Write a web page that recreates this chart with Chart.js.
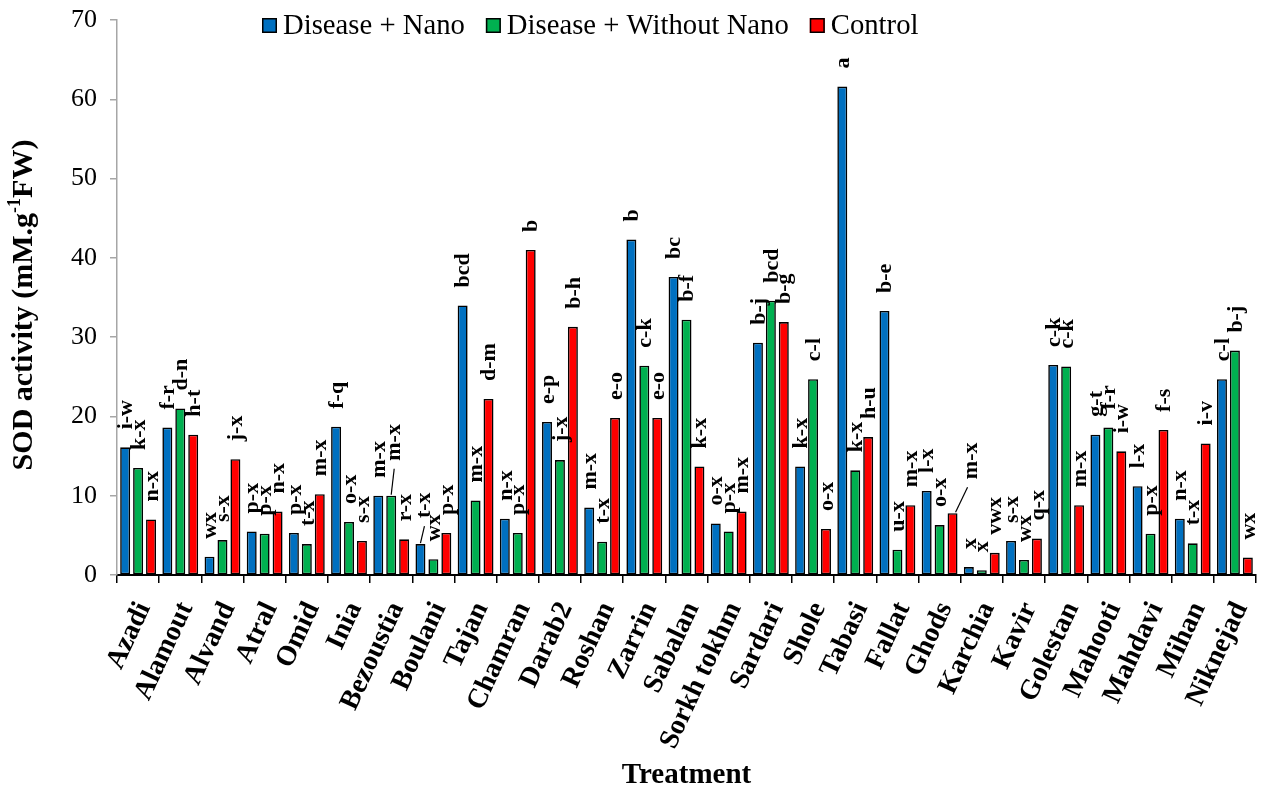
<!DOCTYPE html>
<html>
<head>
<meta charset="utf-8">
<script src="https://cdn.jsdelivr.net/npm/chart.js@4.4.1/dist/chart.umd.min.js"></script>
<style>
  html, body { margin: 0; padding: 0; background: #fff; }
  #wrap { width: 1263px; height: 787px; }
</style>
</head>
<body>
<div id="wrap"><canvas id="sod" width="1263" height="787"></canvas></div>
<script>
// Cultivars on the x axis
const categories = ['Azadi', 'Alamout', 'Alvand', 'Atral', 'Omid', 'Inia', 'Bezoustia', 'Boulani',
  'Tajan', 'Chamran', 'Darab2', 'Roshan', 'Zarrin', 'Sabalan', 'Sorkh tokhm', 'Sardari', 'Shole',
  'Tabasi', 'Fallat', 'Ghods', 'Karchia', 'Kavir', 'Golestan', 'Mahooti', 'Mahdavi', 'Mihan', 'Niknejad'];

const seriesNames = ['Disease + Nano', 'Disease + Without Nano', 'Control'];

// SOD activity (mM.g-1 FW)
const diseaseNano = [16.1, 18.6, 2.3, 5.5, 5.3, 18.7, 10.0, 3.9, 34.0, 7.1, 19.3, 8.5, 42.3, 37.6,
  6.5, 29.3, 13.7, 61.6, 33.3, 10.6, 1.0, 4.3, 26.5, 17.7, 11.2, 7.1, 24.7];
const diseaseWithoutNano = [13.5, 21.0, 4.4, 5.2, 3.9, 6.7, 10.0, 2.0, 9.4, 5.3, 14.5, 4.2, 26.4, 32.2,
  5.5, 34.6, 24.7, 13.2, 3.2, 6.3, 0.6, 1.9, 26.3, 18.6, 5.2, 4.0, 28.3];
const control = [7.0, 17.7, 14.6, 8.0, 10.2, 4.3, 4.5, 5.3, 22.2, 41.0, 31.3, 19.8, 19.8, 13.7,
  8.0, 31.9, 5.8, 17.4, 8.8, 7.8, 2.8, 4.6, 8.8, 15.6, 18.3, 16.6, 2.2];

// Mean-separation letters above each bar
const lettersNano = ['i-w', 'f-r', 'wx', 'p-x', 'p-x', 'f-q', 'm-x', 't-x', 'bcd', 'n-x', 'e-p', 'm-x', 'b',
  'bc', 'o-x', 'b-j', 'k-x', 'a', 'b-e', 'l-x', 'x', 's-x', 'c-k', 'g-t', 'l-x', 'n-x', 'c-l'];
const lettersWithoutNano = ['k-x', 'd-n', 's-x', 'p-x', 't-x', 'o-x', 'm-x', 'wx', 'm-x', 'p-x', 'j-x', 't-x', 'c-k',
  'b-f', 'p-x', 'bcd', 'c-l', 'k-x', 'u-x', 'o-x', 'x', 'wx', 'c-k', 'f-r', 'p-x', 't-x', 'b-j'];
const lettersControl = ['n-x', 'h-t', 'j-x', 'n-x', 'm-x', 's-x', 'r-x', 'p-x', 'd-m', 'b', 'b-h', 'e-o', 'e-o',
  'k-x', 'm-x', 'b-g', 'o-x', 'h-u', 'm-x', 'm-x', 'vwx', 'q-x', 'm-x', 'i-w', 'f-s', 'i-v', 'wx'];

const yTicks = [0, 10, 20, 30, 40, 50, 60, 70];

// ---- styling (kept apart from the data) ----
const seriesColors = ['#0070C0', '#00B050', '#FF0000'];
const SERIF = '"Liberation Serif", "Times New Roman", serif';
const LABEL_GAP = 18;
const LABEL_DX = 1;
// labels that were moved off their bar, joined back by a short leader line
const labelNudges = {
  'Bezoustia|1': { dx: 2, dy: 17 },
  'Boulani|0': { dx: 3, dy: 8 },
  'Ghods|2': { dx: 18, dy: 16 }
};

const letterSets = [lettersNano, lettersWithoutNano, lettersControl];

// keep the plot box fixed: no extra room reserved for overhanging tick labels
const noScalePadding = (s) => { s.paddingTop = 0; s.paddingBottom = 0; s.paddingLeft = 0; s.paddingRight = 0; };

const barLetters = {
  id: 'barLetters',
  afterDatasetsDraw(chart) {
    const ctx = chart.ctx;
    ctx.save();
    ctx.font = 'bold 22px ' + SERIF;
    ctx.fillStyle = '#000';
    ctx.strokeStyle = '#000';
    ctx.lineWidth = 1.2;
    chart.data.datasets.forEach((ds, di) => {
      const meta = chart.getDatasetMeta(di);
      meta.data.forEach((bar, i) => {
        const text = letterSets[di][i];
        const nudge = labelNudges[categories[i] + '|' + di];
        let x = bar.x + LABEL_DX;
        let y = bar.y - LABEL_GAP;
        if (nudge) {
          x += nudge.dx;
          y -= nudge.dy;
          ctx.beginPath();
          ctx.moveTo(bar.x + (nudge.dx > 8 ? 3 : 0), bar.y - 1);
          ctx.lineTo(x - (nudge.dx > 8 ? 4 : 0), y + 8);
          ctx.stroke();
        }
        ctx.save();
        ctx.translate(x, y);
        ctx.rotate(-Math.PI / 2);
        ctx.textAlign = 'left';
        ctx.textBaseline = 'middle';
        ctx.fillText(text, 0, 0);
        ctx.restore();
      });
    });
    ctx.restore();
  }
};

const topLegend = {
  id: 'topLegend',
  afterDraw(chart) {
    const ctx = chart.ctx;
    ctx.save();
    ctx.font = '28.7px ' + SERIF;
    ctx.textBaseline = 'alphabetic';
    ctx.textAlign = 'left';
    let x = 262;
    const box = 15, boxTop = 18, baseline = 34, textGap = 6, itemGap = 21;
    chart.data.datasets.forEach((ds) => {
      ctx.fillStyle = ds.backgroundColor;
      ctx.fillRect(x, boxTop, box, box);
      ctx.strokeStyle = '#000';
      ctx.lineWidth = 1.5;
      ctx.strokeRect(x + 0.75, boxTop + 0.75, box - 1.5, box - 1.5);
      ctx.fillStyle = '#000';
      ctx.fillText(ds.label, x + box + textGap, baseline);
      x += box + textGap + ctx.measureText(ds.label).width + itemGap;
    });
    ctx.restore();
  }
};

const yTitle = {
  id: 'yTitle',
  afterDraw(chart) {
    const ctx = chart.ctx;
    const parts = [
      { t: 'SOD activity (mM.g', f: 'bold 30px ' + SERIF, dy: 0 },
      { t: '-1', f: 'bold 18px ' + SERIF, dy: -12 },
      { t: 'FW)', f: 'bold 30px ' + SERIF, dy: 0 }
    ];
    ctx.save();
    let total = 0;
    parts.forEach(p => { ctx.font = p.f; p.w = ctx.measureText(p.t).width; total += p.w; });
    ctx.translate(32, 305);
    ctx.rotate(-Math.PI / 2);
    ctx.fillStyle = '#000';
    ctx.textBaseline = 'alphabetic';
    ctx.textAlign = 'left';
    let x = -total / 2;
    parts.forEach(p => { ctx.font = p.f; ctx.fillText(p.t, x, p.dy); x += p.w; });
    ctx.restore();
  }
};

new Chart(document.getElementById('sod'), {
  type: 'bar',
  data: {
    labels: categories,
    datasets: [
      { label: seriesNames[0], data: diseaseNano },
      { label: seriesNames[1], data: diseaseWithoutNano },
      { label: seriesNames[2], data: control }
    ].map((d, k) => Object.assign(d, {
      backgroundColor: seriesColors[k],
      borderColor: '#000',
      borderWidth: 1.6,
      borderSkipped: false,
      categoryPercentage: 0.92,
      barPercentage: 0.77
    }))
  },
  options: {
    responsive: false,
    animation: false,
    devicePixelRatio: 1,
    layout: { padding: { top: 20, right: 7, left: 0, bottom: 0 } },
    plugins: { legend: { display: false }, tooltip: { enabled: false } },
    scales: {
      x: {
        grid: { drawOnChartArea: false, color: '#000', lineWidth: 1.5, tickLength: 8, offset: true },
        border: { color: '#000', width: 2 },
        ticks: {
          color: '#000', autoSkip: false, minRotation: 65, maxRotation: 65, padding: 14, labelOffset: 6,
          font: { family: SERIF, size: 28, weight: 'bold' }
        },
        title: {
          display: true, text: 'Treatment', color: '#000', padding: 0,
          font: { family: SERIF, size: 29, weight: 'bold', lineHeight: 0.8 }
        },
        afterFit: (s) => { s.height = 212; noScalePadding(s); }
      },
      y: {
        min: yTicks[0], max: yTicks[yTicks.length - 1],
        afterBuildTicks: (s) => { s.ticks = yTicks.map(v => ({ value: v })); },
        grid: { drawOnChartArea: false, color: '#a6a6a6', lineWidth: 1.5, tickLength: 7 },
        border: { color: '#a6a6a6', width: 1.5 },
        ticks: { color: '#000', padding: 13, font: { family: SERIF, size: 26 } },
        afterFit: (s) => { s.width = 117; noScalePadding(s); }
      }
    }
  },
  plugins: [barLetters, topLegend, yTitle]
});
</script>
</body>
</html>
